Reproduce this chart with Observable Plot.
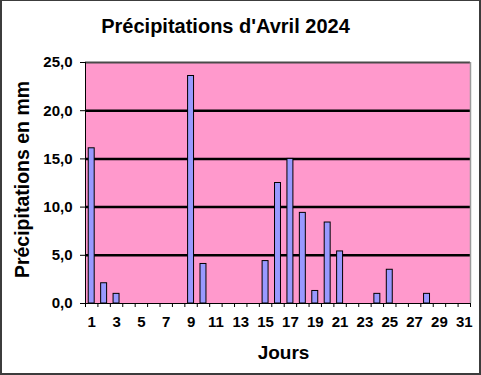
<!DOCTYPE html>
<html>
<head>
<meta charset="utf-8">
<script src="https://cdn.jsdelivr.net/npm/d3@7"></script>
<script src="https://cdn.jsdelivr.net/npm/@observablehq/plot@0.6"></script>
<style>
  body { margin: 0; background: #fff; }
  #wrap { position: relative; width: 481px; height: 375px; overflow: hidden; background: #fff; }
  #border { position: absolute; left: 0; top: 0; width: 481px; height: 375px; box-sizing: border-box; border: 2px solid #3c3c3c; border-top-width: 1.5px; pointer-events: none; }
</style>
</head>
<body>
<div id="wrap"><div id="border"></div></div>
<script>
const title = "Précipitations d'Avril 2024";
const yLabel = "Précipitations en mm";
const xLabel = "Jours";
const days = [1,2,3,4,5,6,7,8,9,10,11,12,13,14,15,16,17,18,19,20,21,22,23,24,25,26,27,28,29,30,31];
const rain = [16.1,2.1,1.0,0,0,0,0,0,23.6,4.1,0,0,0,0,4.4,12.5,15.0,9.4,1.3,8.4,5.4,0,0,1.0,3.5,0,0,1.0,0,0,0];
const yTicks = [0,5,10,15,20,25];
const xTickLabels = [1,3,5,7,9,11,13,15,17,19,21,23,25,27,29,31];

const data = days.map((d, i) => ({day: d, mm: rain[i]})).filter(d => d.mm > 0);
const boundaries = d3.range(0.5, 32, 1);
const half = 0.24;
const fmt = v => d3.format(".1f")(v).replace(".", ",");
const font = "'Liberation Sans', Arial, sans-serif";

const chart = Plot.plot({
  width: 481,
  height: 375,
  marginLeft: 85,
  marginRight: 11,
  marginTop: 62,
  marginBottom: 72,
  style: {fontFamily: font, fontWeight: "bold", fontSize: "15px", color: "#000", background: "transparent", overflow: "visible"},
  x: {domain: [0.5, 31.5], label: null},
  y: {domain: [0, 25], label: null},
  marks: [
    Plot.frame({fill: "#ff99cc", stroke: null}),
    Plot.ruleY([5, 10, 15, 20], {stroke: "#000", strokeWidth: 2.5}),
    Plot.ruleY([25], {stroke: "#4a4a4a", strokeWidth: 2}),
    Plot.ruleX([31.5], {stroke: "#9a9a9a", strokeWidth: 1.5}),
    Plot.rectY(data, {x1: d => d.day - half, x2: d => d.day + half, y1: 0, y2: "mm", fill: "#9999ff", stroke: "#000", strokeWidth: 1}),
    Plot.ruleX([0.5], {stroke: "#000", strokeWidth: 1}),
    Plot.ruleY([0], {stroke: "#000", strokeWidth: 1}),
    Plot.axisY({ticks: yTicks, tickFormat: fmt, tickSize: 5, tickPadding: 8, stroke: "#000", fontSize: 15, fontWeight: "bold"}),
    Plot.axisX({ticks: boundaries, tickFormat: () => "", tickSize: 4, stroke: "#000"}),
    Plot.axisX({ticks: xTickLabels, tickFormat: d => String(d), tickSize: 0, tickPadding: 13, fontSize: 15, fontWeight: "bold"}),
    Plot.text([title], {frameAnchor: "top", text: d => d, dx: -52.5, dy: -36, textAnchor: "middle", lineAnchor: "middle", fontSize: 20, fontWeight: "bold"}),
    Plot.text([xLabel], {frameAnchor: "bottom", text: d => d, dx: 5.5, dy: 49, textAnchor: "middle", lineAnchor: "middle", fontSize: 19, fontWeight: "bold"}),
    Plot.text([yLabel], {frameAnchor: "left", text: d => d, dx: -63, dy: -3.5, rotate: -90, textAnchor: "middle", lineAnchor: "middle", fontSize: 19.5, fontWeight: "bold"})
  ]
});
chart.style.position = "absolute";
chart.style.left = "0";
chart.style.top = "0";
document.getElementById("wrap").prepend(chart);
</script>
</body>
</html>
